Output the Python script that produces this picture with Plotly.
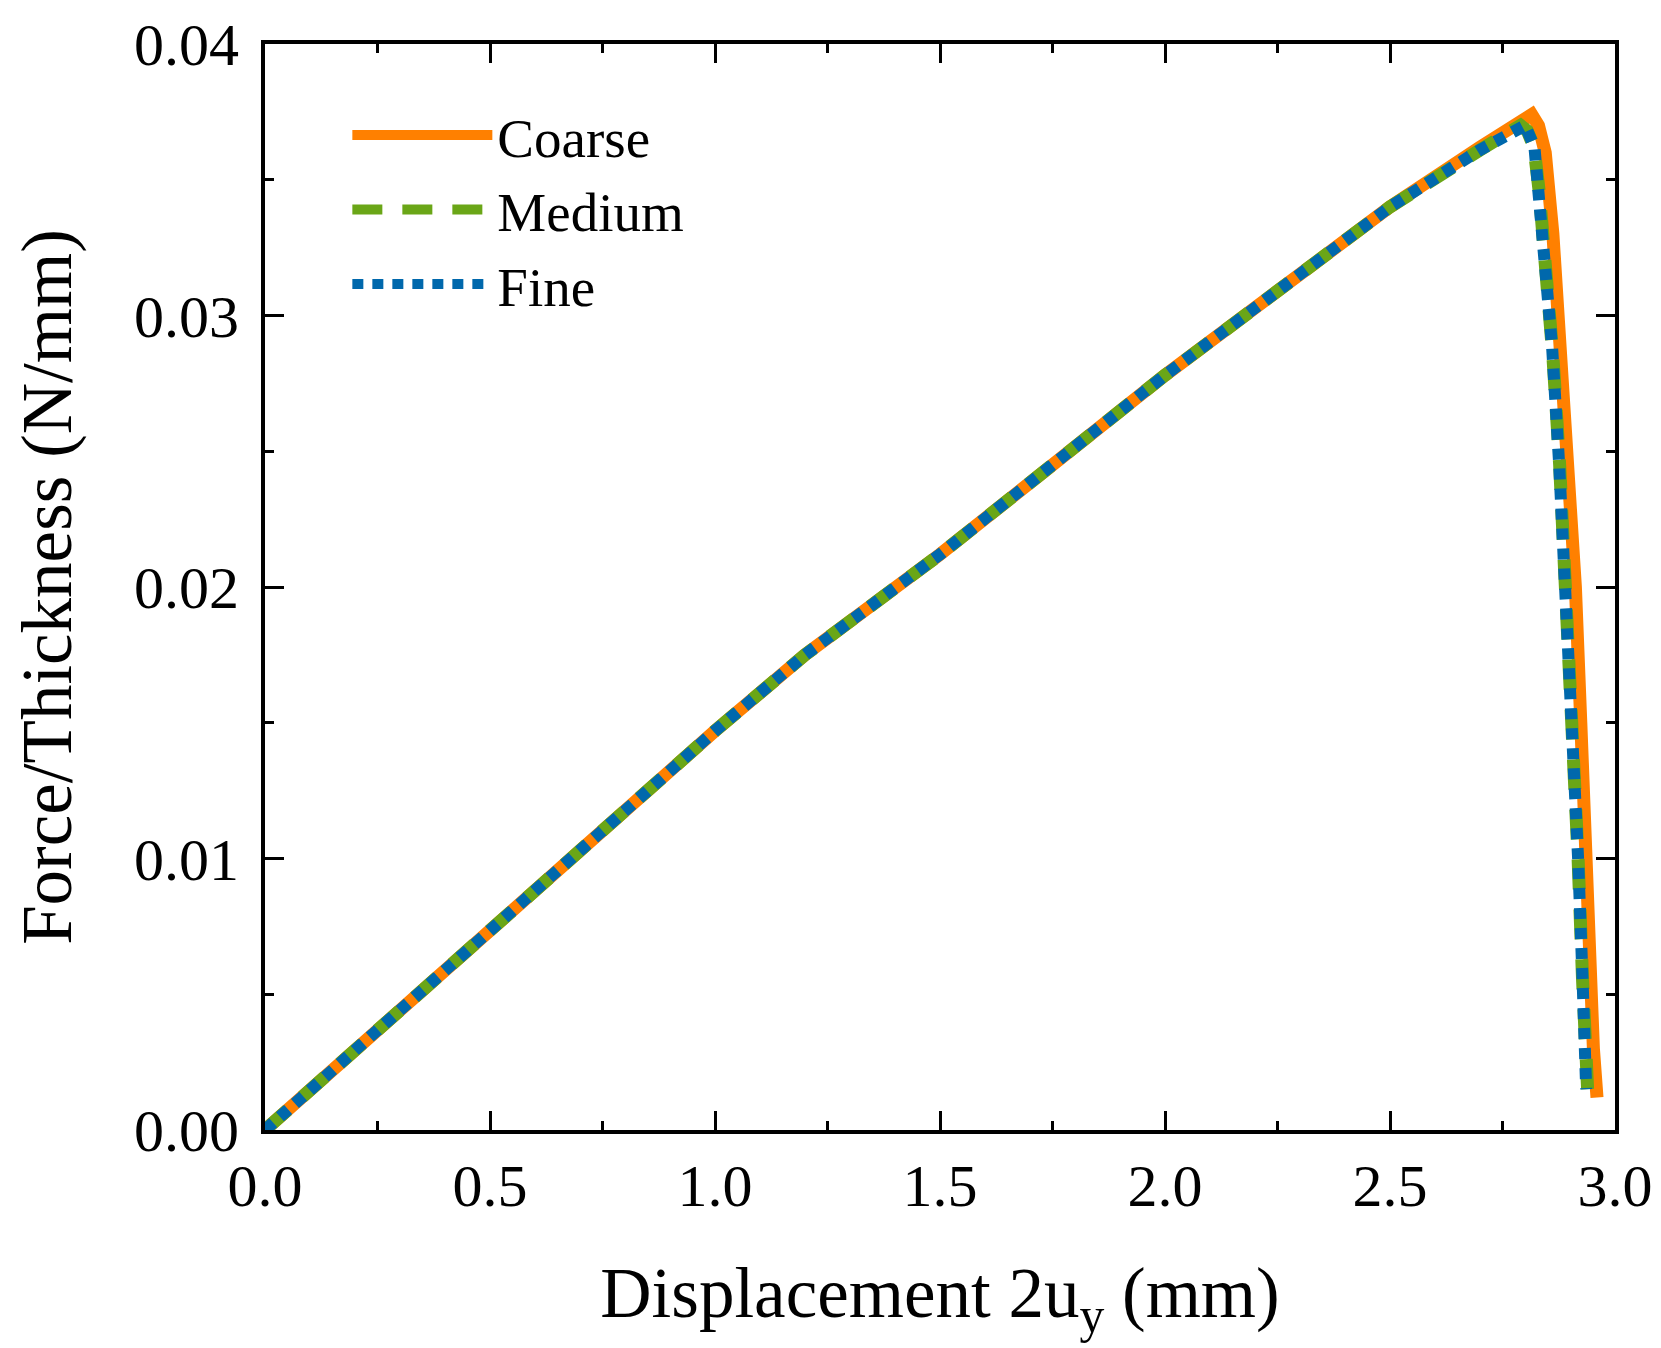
"""Curva força/espessura vs deslocamento para três malhas"""

import plotly.graph_objects as go

# Dados (deslocamento 2uy em mm, força/espessura em N/mm)
coarse_x = [0.0, 0.25, 0.5, 0.75, 1.0, 1.2, 1.5, 1.75, 2.0, 2.25, 2.5, 2.7,
            2.80, 2.815, 2.83, 2.845, 2.862, 2.879, 2.895, 2.912, 2.924,
            2.934, 2.944, 2.952, 2.960]
coarse_y = [0.0, 0.0037, 0.0074, 0.0111, 0.0147, 0.0175, 0.0212, 0.0245,
            0.0278, 0.0309, 0.0340, 0.0362, 0.0372, 0.0374, 0.0370, 0.0360,
            0.0330, 0.0290, 0.0247, 0.0200, 0.0150, 0.0100, 0.0060, 0.0030,
            0.0012]

medium_x = [0.0, 0.25, 0.5, 0.75, 1.0, 1.2, 1.5, 1.75, 2.0, 2.25, 2.5, 2.7,
            2.79, 2.805, 2.82, 2.832, 2.842, 2.853, 2.862, 2.877, 2.891,
            2.905, 2.918, 2.928, 2.935, 2.940]
medium_y = [0.0, 0.0037, 0.0074, 0.0111, 0.0147, 0.0175, 0.0212, 0.0245,
            0.0278, 0.0309, 0.0340, 0.0361, 0.0370, 0.0368, 0.0362, 0.0345,
            0.0328, 0.0303, 0.0285, 0.0245, 0.0200, 0.0150, 0.0100, 0.0055,
            0.0025, 0.0012]

fine_x = [0.0, 0.25, 0.5, 0.75, 1.0, 1.2, 1.5, 1.75, 2.0, 2.25, 2.5, 2.7,
          2.79, 2.80, 2.821, 2.831, 2.841, 2.850, 2.860, 2.876, 2.890,
          2.904, 2.918, 2.928, 2.936]
fine_y = [0.0, 0.0037, 0.0074, 0.0111, 0.0147, 0.0175, 0.0212, 0.0245,
          0.0278, 0.0309, 0.0340, 0.0361, 0.0369, 0.0370, 0.0362, 0.0345,
          0.0329, 0.0312, 0.0289, 0.0245, 0.0200, 0.0150, 0.0100, 0.0055,
          0.0015]

series_names = ["Coarse", "Medium", "Fine"]

x_ticks = [0.0, 0.5, 1.0, 1.5, 2.0, 2.5, 3.0]
x_tick_labels = ["0.0", "0.5", "1.0", "1.5", "2.0", "2.5", "3.0"]
y_ticks = [0.0, 0.01, 0.02, 0.03, 0.04]
y_tick_labels = ["0.00", "0.01", "0.02", "0.03", "0.04"]

ORANGE = "#FF8000"
GREEN = "#6AA617"
BLUE = "#0068AC"
FONT = "Liberation Serif"


def create_figure():
    """Cria o gráfico de força por espessura."""
    figure = go.Figure()

    # Malha grossa (linha contínua)
    figure.add_trace(
        go.Scatter(
            x=coarse_x,
            y=coarse_y,
            name=series_names[0],
            mode="lines",
            line=dict(color=ORANGE, width=13),
        )
    )

    # Malha média (tracejada)
    figure.add_trace(
        go.Scatter(
            x=medium_x,
            y=medium_y,
            name=series_names[1],
            mode="lines",
            line=dict(color=GREEN, width=13, dash="30px,20px"),
        )
    )

    # Malha fina (pontilhada)
    figure.add_trace(
        go.Scatter(
            x=fine_x,
            y=fine_y,
            name=series_names[2],
            mode="lines",
            line=dict(color=BLUE, width=12, dash="11px,9px"),
        )
    )

    axis_common = dict(
        showline=True,
        linecolor="black",
        linewidth=4,
        mirror="ticks",
        ticks="inside",
        ticklen=19,
        tickwidth=3,
        tickcolor="black",
        showgrid=False,
        zeroline=False,
        automargin=False,
        tickfont=dict(family=FONT, size=60, color="black"),
    )

    # a página tem 8px de margem no body, por isso o tamanho é descontado
    figure.update_layout(
        width=1653,
        height=1340,
        paper_bgcolor="white",
        plot_bgcolor="white",
        font=dict(family=FONT, color="black"),
        margin=dict(l=257, r=46, t=36, b=218),
        xaxis=dict(
            **axis_common,
            range=[0, 3.0],
            tickvals=x_ticks,
            ticktext=x_tick_labels,
            minor=dict(dtick=0.25, ticks="inside", ticklen=9, tickwidth=3,
                       tickcolor="black"),
            title=dict(text="Displacement 2u<sub>y</sub> (mm)",
                       font=dict(family=FONT, size=71), standoff=50),
        ),
        yaxis=dict(
            **axis_common,
            range=[0, 0.04],
            tickvals=y_ticks,
            ticktext=y_tick_labels,
            ticklabelstandoff=10,
            minor=dict(dtick=0.005, ticks="inside", ticklen=9, tickwidth=3,
                       tickcolor="black"),
            title=dict(text="Force/Thickness (N/mm)",
                       font=dict(family=FONT, size=71), standoff=44),
        ),
        legend=dict(
            x=0.061,
            y=0.955,
            xanchor="left",
            yanchor="top",
            bgcolor="rgba(0,0,0,0)",
            font=dict(family=FONT, size=55, color="black"),
            itemwidth=140,
            tracegroupgap=0,
        ),
        showlegend=True,
    )

    return figure


fig = create_figure()
fig.write_html("out.html")
